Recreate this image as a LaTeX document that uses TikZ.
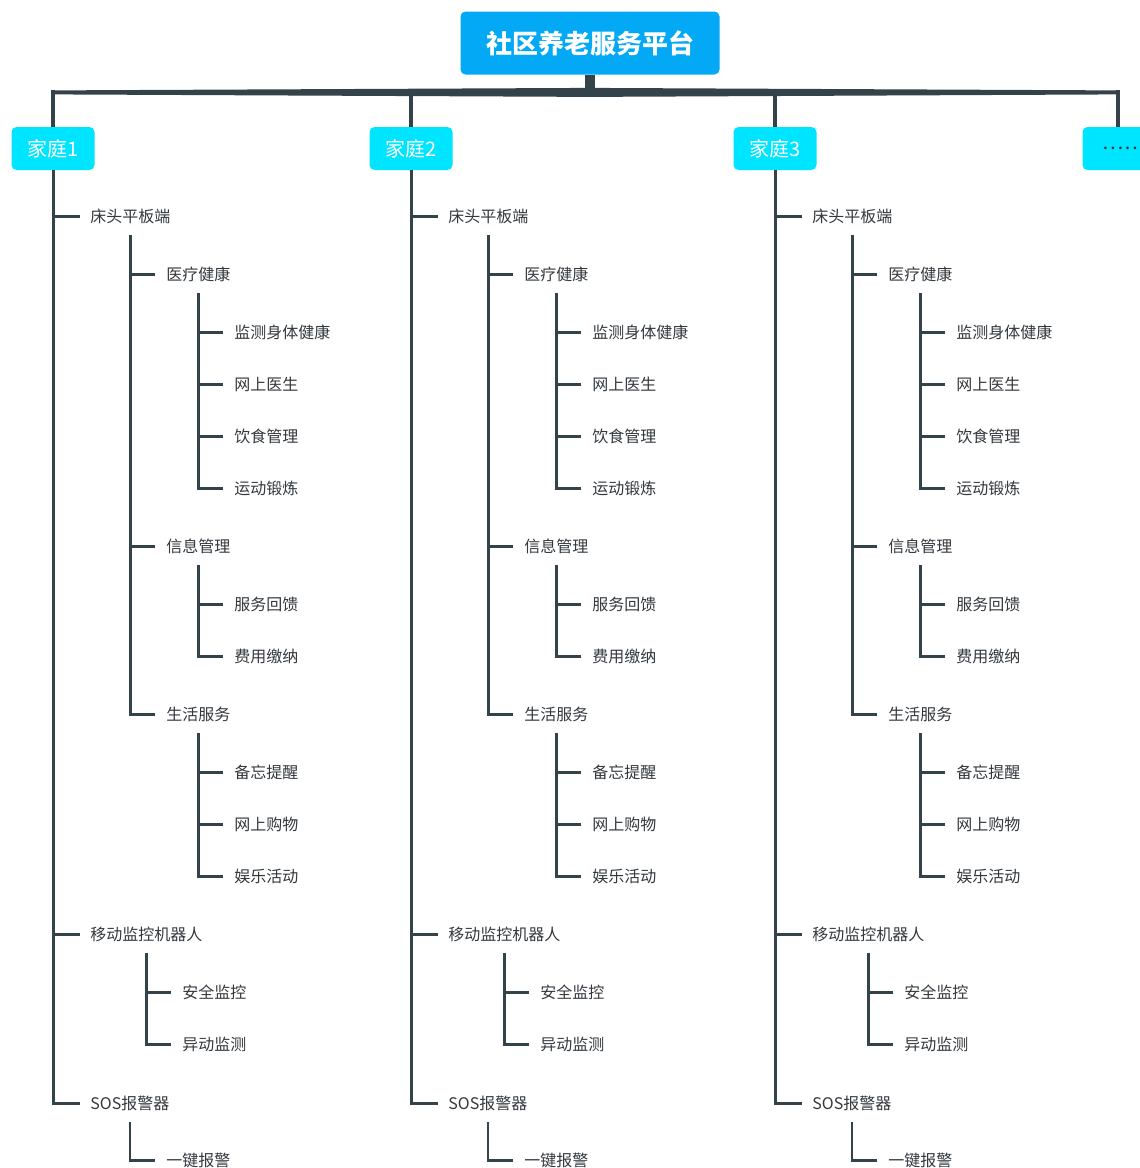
\documentclass[tikz,border=0pt]{standalone}
\usepackage{fontspec}
\setmainfont{Noto Sans CJK SC}
\usetikzlibrary{calc}
\definecolor{platform}{RGB}{3,169,244}
\definecolor{family}{RGB}{0,229,255}
\definecolor{wire}{RGB}{52,66,74}
\definecolor{ink}{RGB}{51,56,61}

\begin{document}
\begin{tikzpicture}[x=0.5pt, y=-0.5pt,
  platform/.style={fill=platform, rounded corners=2.5pt, text=white, font=\fontsize{13}{15}\selectfont\bfseries, minimum width=129.5pt, minimum height=31.5pt, inner sep=0},
  family/.style={fill=family, rounded corners=2.5pt, text=white, font=\fontsize{10}{12}\selectfont, minimum width=41.5pt, minimum height=21.5pt, inner sep=0},
  item/.style={anchor=west, inner sep=0, text=ink, font=\fontsize{8}{10}\selectfont},
  drop/.style={draw=wire, line width=2pt},
  stem/.style={draw=wire, line width=1.5pt, shorten >=5pt},
  branch/.style={draw=wire, line width=1.2pt, shorten <=5.5pt, shorten >=5.5pt}]

\useasboundingbox (0,0) rectangle (1140,1168);

\node[platform](title) at (590,43){社区养老服务平台};
\node[family, text=wire!80!black](dots) at (1124,148.5){……};

\foreach \c/\dx in {1/0,2/358,3/722}{
\begin{scope}[xshift=\dx*0.5pt]
\node[family](fam\c) at (53,148.5){家庭\c};

\node[item](bed\c) at (90,216.5){床头平板端};
\node[item](robot\c) at (90,934.5){移动监控机器人};
\node[item](sos\c) at (90,1103.5){SOS报警器};

\node[item](med\c) at (166,274.5){医疗健康};
\node[item](info\c) at (166,546.5){信息管理};
\node[item](life\c) at (166,714.5){生活服务};

\node[item](check\c) at (234,332.5){监测身体健康};
\node[item](doctor\c) at (234,384.5){网上医生};
\node[item](diet\c) at (234,436.5){饮食管理};
\node[item](sport\c) at (234,488.5){运动锻炼};
\node[item](feedback\c) at (234,604.5){服务回馈};
\node[item](fee\c) at (234,656.5){费用缴纳};
\node[item](memo\c) at (234,772.5){备忘提醒};
\node[item](shop\c) at (234,824.5){网上购物};
\node[item](fun\c) at (234,876.5){娱乐活动};

\node[item](safe\c) at (182,992.5){安全监控};
\node[item](move\c) at (182,1044.5){异动监测};
\node[item](button\c) at (166,1160.5){一键报警};
\end{scope}

\foreach \k in {bed,robot,sos}
  \draw[stem] (fam\c.south) |- (\k\c.west);
\foreach \k in {med,info,life}
  \draw[branch] (bed\c.south) |- (\k\c.west);
\foreach \k in {check,doctor,diet,sport}
  \draw[branch] (med\c.south) |- (\k\c.west);
\foreach \k in {feedback,fee}
  \draw[branch] (info\c.south) |- (\k\c.west);
\foreach \k in {memo,shop,fun}
  \draw[branch] (life\c.south) |- (\k\c.west);
\foreach \k in {safe,move}
  \draw[branch] (robot\c.south) |- (\k\c.west);
\draw[branch] (sos\c.south) |- (button\c.west);
}

% bar under the platform, thicker in the middle
\coordinate (hub) at ($(title.south)+(0,17.5)$);
\coordinate (dotstop) at ([xshift=-3pt]dots.north);
\coordinate (barL) at (fam1.north |- hub);
\coordinate (barR) at (dotstop |- hub);
\draw[wire, line width=5pt] (title.south) -- (hub);
\fill[wire] ($(barL)+(0,-2)$) -- ($(hub)+(0,-4.5)$) -- ($(barR)+(0,-2)$)
  -- ($(barR)+(0,2)$) -- ($(hub)+(0,4.5)$) -- ($(barL)+(0,2)$) -- cycle;
\foreach \i in {1,2,3}
  \draw[drop] (fam\i.north) -- ($(fam\i.north |- hub)+(0,-2)$);
\draw[drop] (dotstop) -- ($(barR)+(0,-2)$);
\end{tikzpicture}
\end{document}
